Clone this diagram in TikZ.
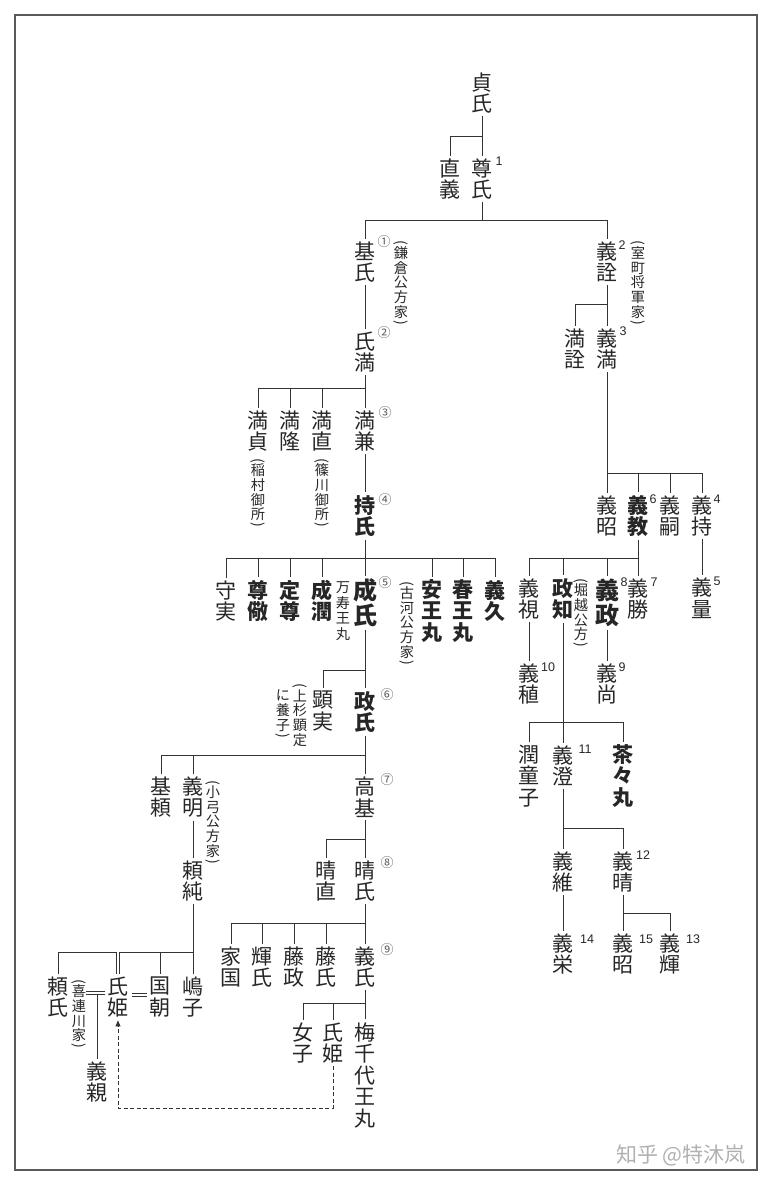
\documentclass[tikz,border=0pt]{standalone}
\usepackage{fontspec}
\usetikzlibrary{arrows.meta}
\newfontfamily\jpfont{Noto Sans CJK JP}
\newfontfamily\scfont{Noto Sans CJK SC}
\newfontfamily\numfont{Liberation Sans}
\definecolor{inkgray}{HTML}{262626}
\definecolor{linegray}{HTML}{333333}
\definecolor{framegray}{HTML}{5A5A5A}
\definecolor{markgray}{HTML}{B0B0B0}
% vertical brackets for the small notes
\newcommand\vopen{\rotatebox[origin=c]{-90}{(}\\[-4pt]}
\newcommand\vclose{\\[-5pt]\rotatebox[origin=c]{-90}{)}}

\begin{document}
\begin{tikzpicture}[x=1pt, y=-1pt,
  person/.style={inner sep=0.5pt, outer sep=2.5pt, align=center, text=inkgray,
                 font=\jpfont\fontsize{21}{21.5}\selectfont},
  boldperson/.style={person, font=\jpfont\bfseries\fontsize{21}{21.5}\selectfont},
  bigperson/.style={person, font=\jpfont\bfseries\fontsize{24}{25}\selectfont},
  memo/.style={inner sep=0pt, align=center, text=inkgray,
               font=\jpfont\fontsize{14.2}{14.7}\selectfont},
  gen/.style={inner sep=0pt, text=inkgray, font=\numfont\fontsize{12.5}{12.5}\selectfont},
  circgen/.style={inner sep=0pt, text=framegray, font=\jpfont\fontsize{13}{13}\selectfont},
  kin/.style={draw=linegray, line width=0.8pt},
  wed/.style={draw=linegray, line width=0.6pt, double, double distance=2.6pt}
]
  \useasboundingbox (0,0) rectangle (772,1186);
  \draw[framegray, line width=1.6pt] (15,15) rectangle (757,1170);

  % Takauji and the two houses
  \node[person] (sadauji) at (482,93) {貞\\氏};
  \node[person] (tadayoshi) at (450,179) {直\\義};
  \node[person] (takauji) at (482,179) {尊\\氏};
  \node[gen] (g1) at (499,161) {1};
  \coordinate (bar0) at (0,136);
  \draw[kin] (sadauji) -- (takauji);
  \draw[kin] (tadayoshi.north) |- (bar0 -| takauji);

  \node[person] (motouji) at (365,262) {基\\氏};
  \node[circgen] (k1) at (384,242) {①};
  \node[memo] (kamakura) at (401,284) {\vopen 鎌\\倉\\公\\方\\家\vclose};
  \node[person] (yoshiakira) at (607,262) {義\\詮};
  \node[gen] (g2) at (622,245) {2};
  \node[memo] (muromachi) at (638,284) {\vopen 室\\町\\将\\軍\\家\vclose};
  \coordinate (bar1) at (0,220);
  \draw[kin] (takauji) -- (takauji |- bar1);
  \draw[kin] (motouji.north) |- (bar1 -| yoshiakira) -- (yoshiakira.north);

  % Kamakura kubo
  \node[person] (ujimitsu) at (365,352) {氏\\満};
  \node[circgen] (k2) at (384,333) {②};
  \draw[kin] (motouji) -- (ujimitsu);

  \node[person] (mitsusada) at (258,431) {満\\貞};
  \node[person] (mitsutaka) at (290,431) {満\\隆};
  \node[person] (mitsutada) at (322,431) {満\\直};
  \node[person] (mitsukane) at (365,431) {満\\兼};
  \node[circgen] (k3) at (385,413) {③};
  \node[memo] (inamura) at (258,494) {\vopen 稲\\村\\御\\所\vclose};
  \node[memo] (sasagawa) at (322,494) {\vopen 篠\\川\\御\\所\vclose};
  \coordinate (bar3) at (0,388);
  \draw[kin] (ujimitsu) -- (mitsukane);
  \draw[kin] (mitsusada.north) |- (bar3 -| mitsukane);
  \foreach \c in {mitsutaka, mitsutada} \draw[kin] (bar3 -| \c) -- (\c.north);

  \node[boldperson] (mochiuji) at (365,516) {持\\氏};
  \node[circgen] (k4) at (385,500) {④};
  \draw[kin] (mitsukane) -- (mochiuji);

  \node[person] (morizane) at (226,601) {守\\実};
  \node[boldperson] (sonkei) at (258,601) {尊\\儆};
  \node[boldperson] (joson) at (290,601) {定\\尊};
  \node[boldperson] (join) at (322,601) {成\\潤};
  \node[memo, font=\jpfont\fontsize{14.2}{15.5}\selectfont] (manju) at (343,611) {万\\寿\\王\\丸};
  \node[bigperson] (shigeuji) at (365,603) {成\\氏};
  \node[circgen] (k5) at (385,583) {⑤};
  \node[memo] (koga) at (407,624) {\vopen 古\\河\\公\\方\\家\vclose};
  \node[boldperson] (yasuo) at (432,611) {安\\王\\丸};
  \node[boldperson] (haruo) at (463,611) {春\\王\\丸};
  \node[boldperson] (yoshihisa) at (495,601) {義\\久};
  \coordinate (bar4) at (0,558);
  \draw[kin] (mochiuji) -- (shigeuji);
  \draw[kin] (morizane.north) |- (bar4 -| yoshihisa) -- (yoshihisa.north);
  \foreach \c in {sonkei, joson, join, yasuo, haruo} \draw[kin] (bar4 -| \c) -- (\c.north);

  % Koga kubo
  \node[person] (akizane) at (323,711) {顕\\実};
  \node[memo] (uesugia) at (300,715) {\vopen 上\\杉\\顕\\定};
  \node[memo] (uesugib) at (283,715) {に\\養\\子\vclose};
  \node[boldperson] (masauji) at (365,712) {政\\氏};
  \node[circgen] (k6) at (387,695) {⑥};
  \coordinate (bar5) at (0,670);
  \draw[kin] (shigeuji) -- (masauji);
  \draw[kin] (akizane.north) |- (bar5 -| masauji);

  \node[person] (motoyori) at (161,797) {基\\頼};
  \node[person] (yoshiaki) at (193,797) {義\\明};
  \node[memo] (oyumi) at (213,823) {\vopen 小\\弓\\公\\方\\家\vclose};
  \node[person] (takamoto) at (365,797) {高\\基};
  \node[circgen] (k7) at (387,780) {⑦};
  \coordinate (bar6) at (0,755);
  \draw[kin] (masauji) -- (takamoto);
  \draw[kin] (motoyori.north) |- (bar6 -| takamoto);
  \draw[kin] (bar6 -| yoshiaki) -- (yoshiaki.north);

  \node[person] (yorizumi) at (193,881) {頼\\純};
  \draw[kin] (yoshiaki) -- (yorizumi);

  \node[person] (harunao) at (326,881) {晴\\直};
  \node[person] (haruuji) at (365,881) {晴\\氏};
  \node[circgen] (k8) at (387,863) {⑧};
  \coordinate (bar7) at (0,839);
  \draw[kin] (takamoto) -- (haruuji);
  \draw[kin] (harunao.north) |- (bar7 -| haruuji);

  \node[person] (iekuni) at (231,967) {家\\国};
  \node[person] (teruuji) at (262,967) {輝\\氏};
  \node[person] (fujimasa) at (294,967) {藤\\政};
  \node[person] (fujiuji) at (326,967) {藤\\氏};
  \node[person] (yoshiuji) at (365,967) {義\\氏};
  \node[circgen] (k9) at (387,950) {⑨};
  \coordinate (bar8) at (0,923);
  \draw[kin] (haruuji) -- (yoshiuji);
  \draw[kin] (iekuni.north) |- (bar8 -| yoshiuji);
  \foreach \c in {teruuji, fujimasa, fujiuji} \draw[kin] (bar8 -| \c) -- (\c.north);

  \node[person] (onago) at (303,1043) {女\\子};
  \node[person] (ujihimeb) at (333,1043) {氏\\姫};
  \node[person] (umechiyo) at (365,1075) {梅\\千\\代\\王\\丸};
  \coordinate (bar9) at (0,1003);
  \draw[kin] (yoshiuji) -- (umechiyo);
  \draw[kin] (onago.north) |- (bar9 -| umechiyo);
  \draw[kin] (bar9 -| ujihimeb) -- (ujihimeb.north);

  % Kitsuregawa
  \node[person] (yoriuji) at (58,997) {頼\\氏};
  \node[memo] (kitsure) at (79,1015) {\vopen 喜\\連\\川\\家\vclose};
  \node[person] (ujihimea) at (118,997) {氏\\姫};
  \node[person] (kunitomo) at (160,997) {国\\朝};
  \node[person] (shimako) at (193,997) {嶋\\子};
  \node[person] (yoshichika) at (97,1082) {義\\親};
  \coordinate (bar10) at (0,952);
  \draw[kin] (yorizumi) -- (shimako);
  \draw[kin] (yoriuji.north) |- (bar10 -| shimako);
  \draw[kin] (bar10 -| kunitomo) -- (kunitomo.north);
  \draw[wed] (bar10 -| ujihimea) -- (ujihimea.north);
  \coordinate (wedl) at (0,993);
  \coordinate (wedr) at (0,995);
  \draw[wed] (kitsure.east |- wedl) -- (ujihimea.west |- wedl);
  \draw[wed] (ujihimea.east |- wedr) -- (kunitomo.west |- wedr);
  \coordinate (wedfoot) at (97,994.6);
  \draw[kin] (wedfoot) -- (yoshichika.north);
  \coordinate (dashbase) at (0,1108);
  \draw[kin, line width=0.7pt, dash pattern=on 4pt off 2.5pt, -{Triangle[length=6pt,width=5pt]}]
    (ujihimeb.south) |- (dashbase -| ujihimea) -- (ujihimea.south);

  % Muromachi shogun
  \node[person] (mitsuakira) at (575,349) {満\\詮};
  \node[person] (yoshimitsu) at (607,349) {義\\満};
  \node[gen] (g3) at (623,331) {3};
  \coordinate (bar2) at (0,304);
  \draw[kin] (yoshiakira) -- (yoshimitsu);
  \draw[kin] (mitsuakira.north) |- (bar2 -| yoshimitsu);

  \node[person] (gisho) at (607,516) {義\\昭};
  \node[boldperson] (yoshinori) at (638,516) {義\\教};
  \node[gen] (g6) at (653,499) {6};
  \node[person] (yoshitsugu) at (670,516) {義\\嗣};
  \node[person] (yoshimochi) at (702,516) {義\\持};
  \node[gen] (g4) at (717,499) {4};
  \coordinate (bar11) at (0,473);
  \draw[kin] (yoshimitsu) -- (gisho);
  \draw[kin] (bar11 -| gisho) -| (yoshimochi.north);
  \foreach \c in {yoshinori, yoshitsugu} \draw[kin] (bar11 -| \c) -- (\c.north);

  \node[person] (yoshikazu) at (702,598) {義\\量};
  \node[gen] (g5) at (717,581) {5};
  \draw[kin] (yoshimochi) -- (yoshikazu);

  \node[person] (yoshimi) at (529,599) {義\\視};
  \node[boldperson] (masatomo) at (563,599) {政\\知};
  \node[memo] (horigoe) at (581,614) {\vopen 堀\\越\\公\\方\vclose};
  \node[bigperson] (yoshimasa) at (607,603) {義\\政};
  \node[gen] (g8) at (624,582) {8};
  \node[person] (yoshikatsu) at (638,599) {義\\勝};
  \node[gen] (g7) at (654,582) {7};
  \coordinate (bar12) at (0,558);
  \draw[kin] (yoshinori) -- (yoshikatsu);
  \draw[kin] (yoshimi.north) |- (bar12 -| yoshikatsu);
  \foreach \c in {masatomo, yoshimasa} \draw[kin] (bar12 -| \c) -- (\c.north);

  \node[person] (yoshitane) at (529,684) {義\\稙};
  \node[gen] (g10) at (548,667) {10};
  \node[person] (yoshihisam) at (607,684) {義\\尚};
  \node[gen] (g9) at (622,667) {9};
  \draw[kin] (yoshimi) -- (yoshitane);
  \draw[kin] (yoshimasa) -- (yoshihisam);

  \node[person] (judoshi) at (529,776) {潤\\童\\子};
  \node[person] (yoshizumi) at (563,766) {義\\澄};
  \node[gen] (g11) at (585,749) {11};
  \node[boldperson] (chachamaru) at (623,776) {茶\\々\\丸};
  \coordinate (bar13) at (0,722);
  \draw[kin] (masatomo) -- (yoshizumi);
  \draw[kin] (judoshi.north) |- (bar13 -| chachamaru) -- (chachamaru.north);

  \node[person] (yoshitsuna) at (563,872) {義\\維};
  \node[person] (yoshiharu) at (623,872) {義\\晴};
  \node[gen] (g12) at (643,855) {12};
  \coordinate (bar14) at (0,828);
  \draw[kin] (yoshizumi) -- (yoshitsuna);
  \draw[kin] (bar14 -| yoshizumi) -| (yoshiharu.north);

  \node[person] (yoshihide) at (563,954) {義\\栄};
  \node[gen] (g14) at (587,939) {14};
  \draw[kin] (yoshitsuna) -- (yoshihide);

  \node[person] (yoshiakiw) at (623,954) {義\\昭};
  \node[gen] (g15) at (646,939) {15};
  \node[person] (yoshiteru) at (670,954) {義\\輝};
  \node[gen] (g13) at (693,939) {13};
  \coordinate (bar15) at (0,913);
  \draw[kin] (yoshiharu) -- (yoshiakiw);
  \draw[kin] (bar15 -| yoshiharu) -| (yoshiteru.north);

  \node[text=markgray, font=\scfont\fontsize{21}{21}\selectfont] (mark) at (681,1155) {知乎 @特沐岚};
\end{tikzpicture}
\end{document}
